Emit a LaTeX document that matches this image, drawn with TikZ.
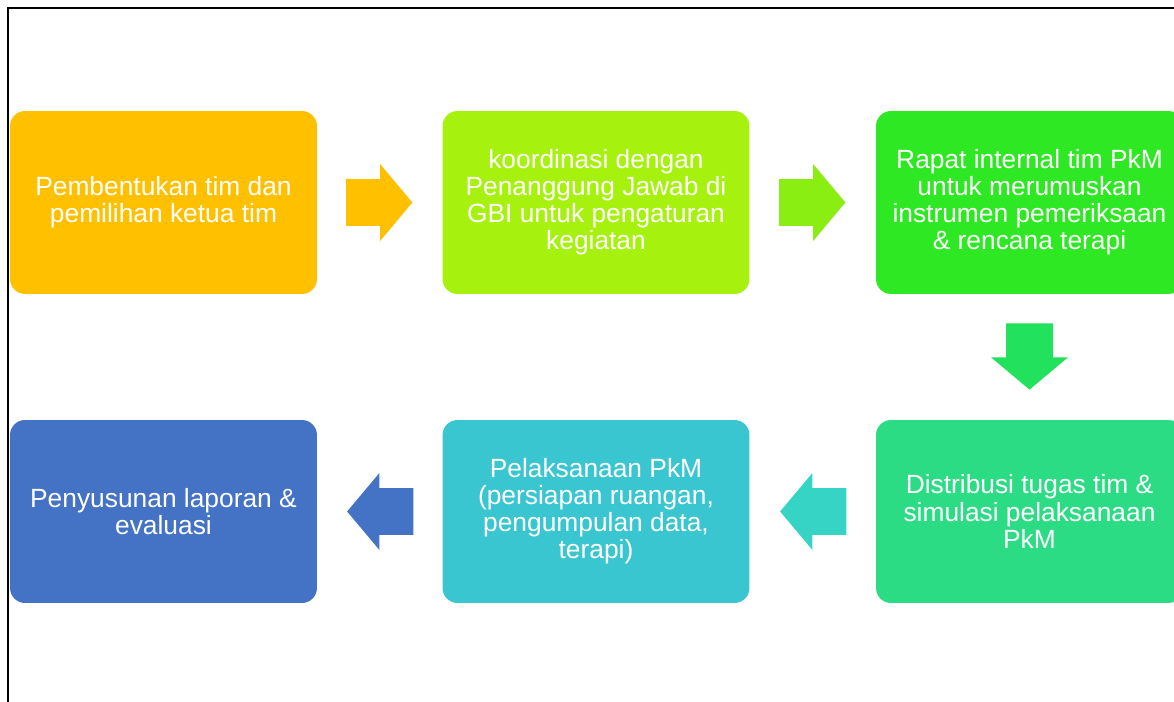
\documentclass[tikz,border=0pt]{standalone}
\usepackage{fontspec}
\setmainfont{Liberation Sans}
\usetikzlibrary{calc,shapes.arrows}
\definecolor{ClrA}{HTML}{FFC000}
\definecolor{ClrB}{HTML}{A6F20E}
\definecolor{ClrBa}{HTML}{8AEE12}
\definecolor{ClrC}{HTML}{2EE824}
\definecolor{ClrCa}{HTML}{22E15C}
\definecolor{ClrD}{HTML}{2CDC84}
\definecolor{ClrDa}{HTML}{35D4C4}
\definecolor{ClrE}{HTML}{3AC6D0}
\definecolor{ClrF}{HTML}{4472C4}

\begin{document}
\begin{tikzpicture}[x=0.02cm,y=-0.02cm,
  tahap/.style={rounded corners=0.3cm,minimum width=6.14cm,minimum height=3.66cm,
    inner sep=0pt,align=center,text=white,
    font=\fontsize{15}{15.4}\selectfont},
  panah/.style={single arrow,draw=none,inner sep=0.46cm,anchor=tail,
    minimum height=1.3cm,minimum width=1.52cm,single arrow head extend=0.3cm,
    single arrow tip angle=100,single arrow head indent=0pt}]
\useasboundingbox (0,0) rectangle (1174,702);

% frame
\draw[line width=1.1pt] (8,710) -- (8,8) -- (1180,8);

% steps
\node[tahap,fill=ClrA] (P1) at (163.5,202.5) {Pembentukan tim dan\\pemilihan ketua tim};
\node[tahap,fill=ClrB] (P2) at (596,202.5) {koordinasi dengan\\Penanggung Jawab di\\GBI untuk pengaturan\\kegiatan};
\node[tahap,fill=ClrC] (P3) at (1029.5,202.5) {Rapat internal tim PkM\\untuk merumuskan\\instrumen pemeriksaan\\\& rencana terapi};
\node[tahap,fill=ClrD] (P4) at (1029.5,511.5) {Distribusi tugas tim \&\\simulasi pelaksanaan\\PkM};
\node[tahap,fill=ClrE] (P5) at (596,511.5) {Pelaksanaan PkM\\(persiapan ruangan,\\pengumpulan data,\\terapi)};
\node[tahap,fill=ClrF] (P6) at (163.5,511.5) {Penyusunan laporan \&\\evaluasi};

% arrows
\node[panah,fill=ClrA] (A1) at ($(P1.east)!.5!(P2.west)+(-34,0)$) {};
\node[panah,fill=ClrBa] (A2) at ($(P2.east)!.5!(P3.west)+(-34,0)$) {};
\node[panah,fill=ClrCa,shape border rotate=270] (A3) at ($(P3.south)!.5!(P4.north)+(0,-34)$) {};
\node[panah,fill=ClrDa,shape border rotate=180] (A4) at ($(P4.west)!.5!(P5.east)+(34,0)$) {};
\node[panah,fill=ClrF,shape border rotate=180] (A5) at ($(P5.west)!.5!(P6.east)+(34,0)$) {};

\end{tikzpicture}
\end{document}
